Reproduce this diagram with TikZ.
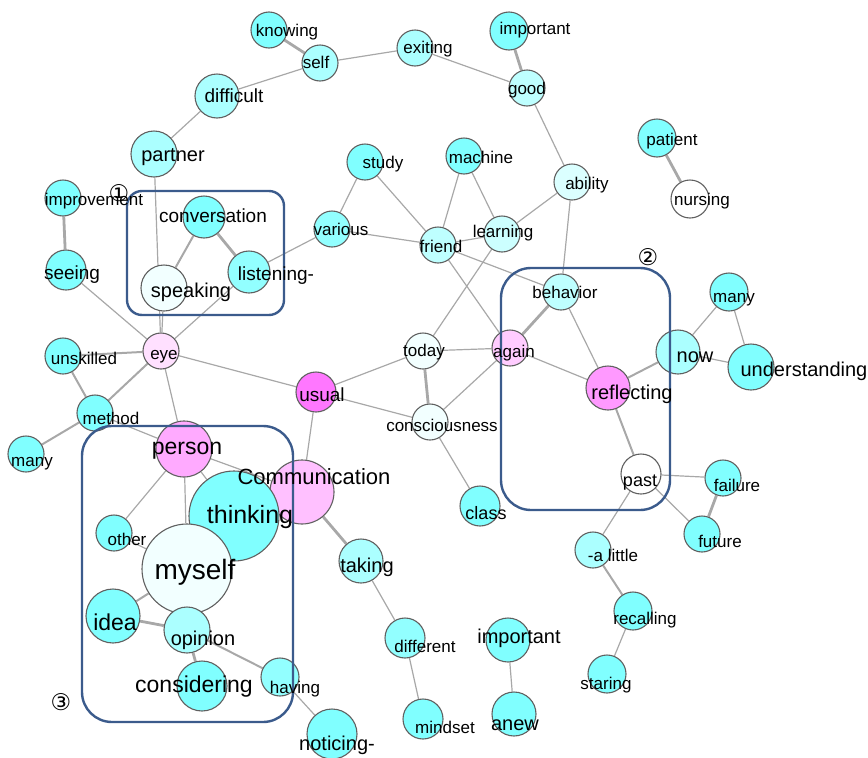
\documentclass[tikz,border=0pt]{standalone}
\usepackage{fontspec}
\setmainfont{Liberation Sans}
\newfontfamily\circfont{DejaVu Sans}
\usetikzlibrary{backgrounds}

\definecolor{cyA}{HTML}{80FFFF}
\definecolor{cyE}{HTML}{92FFFF}
\definecolor{cyB}{HTML}{ABFFFF}
\definecolor{cyC}{HTML}{BEFFFF}
\definecolor{cyF}{HTML}{CCFFFF}
\definecolor{cyD}{HTML}{DBFFFF}
\definecolor{cyW}{HTML}{F2FFFF}
\definecolor{pkA}{HTML}{FFE0FF}
\definecolor{pkB}{HTML}{FFCCFF}
\definecolor{pkF}{HTML}{FFC0FF}
\definecolor{pkE}{HTML}{FFAAFF}
\definecolor{pkC}{HTML}{FF99FF}
\definecolor{pkD}{HTML}{FF77FF}
\definecolor{edgegray}{HTML}{A8A8A8}
\definecolor{rimgray}{HTML}{606060}
\definecolor{boxblue}{HTML}{3B5B8C}

\tikzset{
	word/.style={circle, draw=rimgray, line width=1.1pt, inner sep=0pt, minimum size={2*#1 pt}},
	lbl/.style={inner sep=0pt, yshift=-3pt, text height=0.72em, text depth=0.2em, font=\fontsize{#1}{#1}\selectfont},
	co/.style={draw=edgegray, line width=1.2pt},
	coM/.style={draw=edgegray, line width=2pt},
	coT/.style={draw=edgegray, line width=2.8pt},
	grp/.style={draw=boxblue, line width=2.4pt, rounded corners=#1},
	grpnum/.style={inner sep=0pt, font=\circfont\fontsize{23}{23}\selectfont}
}

\begin{document}
\begin{tikzpicture}[x=1pt, y=-1pt]
	\useasboundingbox (0,0) rectangle (868,758);
	
	% words: name/x/y/radius/fill
	\foreach \n/\x/\y/\r/\c in {
		knowing/269/30/18/cyA, self/320/63/18/cyB, exiting/415/48/18/cyB,
		importantA/509/31/19/cyA, good/527/88/18/cyC, difficult/217/96/22/cyB,
		partner/154/154/23/cyB, patient/657/138/19/cyA, nursing/690/199/19/white,
		study/365/162/18/cyA, machine/464/156/18/cyA, ability/572/182/18/cyD,
		improvement/63/198/18/cyA, conversation/204/217/21/cyA, various/332/229/18/cyE,
		friend/438/245/18/cyC, learning/502/234/18/cyF, seeing/66/270/20/cyA,
		speaking/164/288/23/cyW, listening/249/272/21/cyE, behavior/561/292/18/cyC,
		manyA/729/292/19/cyA, now/678/352/22/cyB, understanding/751/367/23/cyA,
		unskilled/63/356/18/cyA, eye/161/351/18/pkA, today/423/351/18/cyW,
		again/510/348/18/pkB, usual/316/392/20/pkD, reflecting/608/388/22/pkC,
		consciousness/430/422/18/cyW, method/95/413/18/cyA, manyB/26/454/18/cyA,
		person/184/449/28/pkE, communication/302/492/32/pkF, thinking/234/516/45/cyA,
		past/641/474/20/white, failure/723/478/18/cyA, class/480/506/20/cyA,
		future/702/534/18/cyA, other/114/533/18/cyA, myself/187/569/45/cyW,
		taking/361/561/22/cyB, alittle/593/550/18/cyB, idea/113/616/27/cyA,
		opinion/187/630/23/cyB, different/405/638/20/cyE, importantB/508/640/22/cyA,
		recalling/633/611/19/cyA, considering/202/686/25/cyA, having/280/677/19/cyE,
		staring/607/674/19/cyA, mindset/423/719/20/cyA, anew/514/714/22/cyA,
		noticing/332/734/25/cyA}
	{
		\node[word=\r, fill=\c] (\n) at (\x,\y) {};
	}
	
	\begin{pgfonlayer}{background}
		\foreach \a/\b in {self/exiting, self/difficult, exiting/good, good/ability,
			difficult/partner, partner/eye, speaking/eye, listening/various, listening/eye,
			seeing/eye, eye/person, eye/usual, method/person, study/various, study/friend,
			various/friend, machine/friend, machine/learning, friend/learning,
			learning/ability, learning/today, friend/again, friend/behavior,
			ability/behavior, behavior/reflecting, today/again, today/usual,
			again/consciousness, again/reflecting, usual/consciousness,
			usual/communication, consciousness/class, now/manyA, now/understanding,
			manyA/understanding, past/failure, past/future, past/alittle,
			recalling/staring, person/communication, person/thinking, person/myself,
			person/other, other/myself, having/noticing, taking/different,
			different/mindset, importantB/anew}
		\draw[co] (\a) -- (\b);
		\foreach \a/\b in {conversation/speaking, unskilled/eye, unskilled/method,
			eye/method, method/manyB, reflecting/now, reflecting/past,
			alittle/recalling, myself/idea, opinion/having}
		\draw[coM] (\a) -- (\b);
		\foreach \a/\b in {knowing/self, importantA/good, conversation/listening,
			improvement/seeing, behavior/again, today/consciousness, failure/future,
			idea/opinion, opinion/considering, communication/taking, patient/nursing}
		\draw[coT] (\a) -- (\b);
	\end{pgfonlayer}
	
	% groups
	\draw[grp=15] (127,191) rectangle (284,315);
	\draw[grp=30] (501,268) rectangle (670,510);
	\draw[grp=30] (82,426) rectangle (293,722);
	\node[grpnum] (g1) at (119,193) {①};
	\node[grpnum] (g2) at (648,257) {②};
	\node[grpnum] (g3) at (61,702) {③};
	
	% labels: node/text/dx/dy/size
	\foreach \n/\t/\dx/\dy/\s in {
		knowing/knowing/18/1/17, self/self/-4/0/17, exiting/exiting/13/0/17,
		importantA/important/26/-2/17, good/good/0/1/17, difficult/difficult/17/1/19,
		partner/partner/19/2/20, patient/patient/15/2/17, nursing/nursing/12/1/17,
		study/study/18/1/17, machine/machine/17/2/17, ability/ability/15/2/17,
		improvement/improvement/31/2/17, conversation/conversation/9/0/19,
		various/various/9/1/17, friend/friend/3/2/17, learning/learning/1/-2/17,
		seeing/seeing/6/4/19, speaking/speaking/27/4/20, listening/listening-/27/3/19,
		behavior/behavior/4/1/17, manyA/many/5/5/17, now/now/17/5/20,
		understanding/understanding/53/4/20, unskilled/unskilled/21/3/17,
		eye/eye/3/3/17, today/today/1/0/17, again/again/4/4/17, usual/usual/6/4/19,
		reflecting/reflecting/24/6/20, consciousness/consciousness/12/4/17,
		method/method/16/6/17, manyB/many/6/7/17, person/person/3/0/23,
		communication/Communication/12/-13/22, thinking/thinking/16/2/25,
		past/past/-1/7/18, failure/failure/14/8/17, class/class/6/8/18,
		future/future/18/8/17, other/other/13/7/17, myself/myself/8/5/28,
		taking/taking/6/6/20, alittle/-a little/20/6/17, idea/idea/2/9/23,
		opinion/opinion/16/10/20, different/different/20/9/17,
		importantB/important/11/-2/20, recalling/recalling/12/8/17,
		considering/considering/-8/1/23, having/having/15/11/17,
		staring/staring/-1/10/17, mindset/mindset/22/9/17, anew/anew/1/11/20,
		noticing/noticing-/5/11/20}
	{
		\node[lbl=\s] (\n-t) at ([shift={(\dx,\dy)}]\n) {\t};
	}
\end{tikzpicture}
\end{document}
